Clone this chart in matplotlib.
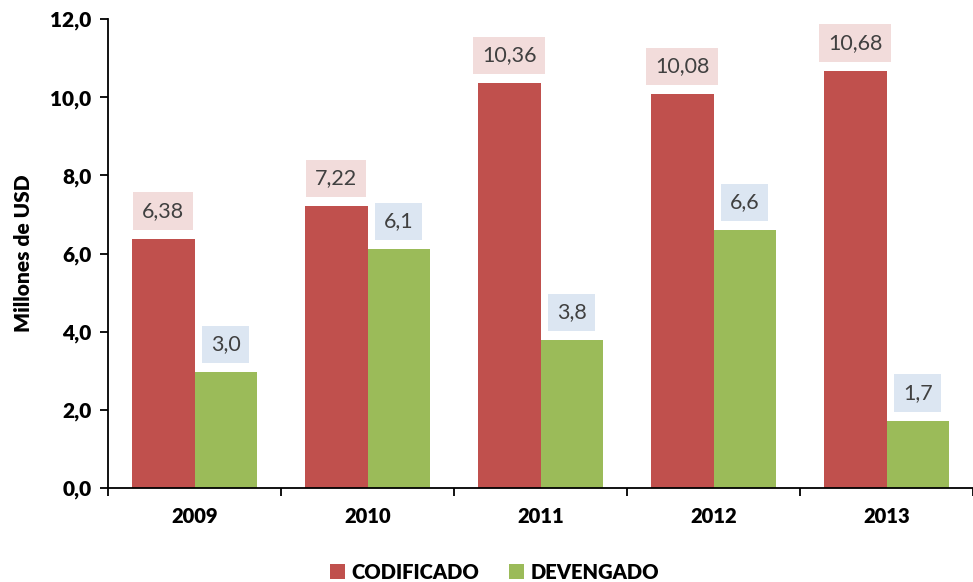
import numpy as np
import matplotlib
matplotlib.use('Agg')
import matplotlib.pyplot as plt

years = ['2009', '2010', '2011', '2012', '2013']
codificado = [6.38, 7.22, 10.36, 10.08, 10.68]
devengado = [2.97, 6.12, 3.79, 6.60, 1.72]

plt.rcParams['font.family'] = ['Lato', 'DejaVu Sans']

fig = plt.figure(figsize=(9.73, 5.82), dpi=100)
ax = fig.add_axes([0.111, 0.1615, 0.889, 0.8055])

x = np.arange(len(years))
w = 0.363
b1 = ax.bar(x - w/2, codificado, w, color='#C0504D', label='CODIFICADO')
b2 = ax.bar(x + w/2, devengado, w, color='#9BBB59', label='DEVENGADO')

def fmt(v, d):
    return ('%.*f' % (d, v)).replace('.', ',')

for xi, v in zip(x - w/2, codificado):
    ax.annotate(fmt(v, 2), (xi, v), xytext=(0, 20), textcoords='offset points',
                ha='center', va='center', fontsize=15.5, color='#404040',
                bbox=dict(boxstyle='square,pad=0.4', fc='#F2DCDB', ec='none'))
for xi, v in zip(x + w/2, devengado):
    ax.annotate(fmt(v, 1), (xi, v), xytext=(0, 20), textcoords='offset points',
                ha='center', va='center', fontsize=15.5, color='#404040',
                bbox=dict(boxstyle='square,pad=0.4', fc='#DCE6F2', ec='none'))

ax.set_ylim(0, 12)
ax.set_xlim(-0.5, len(years) - 0.5)
ax.set_yticks(np.arange(0, 12.1, 2))
ax.set_yticklabels([fmt(t, 1) for t in np.arange(0, 12.1, 2)], fontsize=15, fontweight='heavy')
ax.set_xticks(np.arange(-0.5, len(years), 1))
ax.set_xticklabels([])
ax.set_xticks(x, minor=True)
ax.set_xticklabels(years, minor=True, fontsize=14.5, fontweight='heavy')
ax.tick_params(axis='x', which='minor', length=0, pad=14)
ax.tick_params(axis='x', which='major', length=6, width=1.3)
ax.tick_params(axis='y', length=6, width=1.3, pad=6)
for s in ['top', 'right']:
    ax.spines[s].set_visible(False)
for s in ['left', 'bottom']:
    ax.spines[s].set_linewidth(1.3)

ax.set_ylabel('Millones de USD', fontsize=15, fontweight='heavy', labelpad=12)

fig.legend(handles=[b1, b2], loc='center', bbox_to_anchor=(0.508, 0.017), ncol=2,
           frameon=False, prop={'size': 14.5, 'weight': 'heavy'}, handlelength=0.75,
           handleheight=0.75, handletextpad=0.3, columnspacing=1.5)

fig.savefig('out.png', dpi=100)
